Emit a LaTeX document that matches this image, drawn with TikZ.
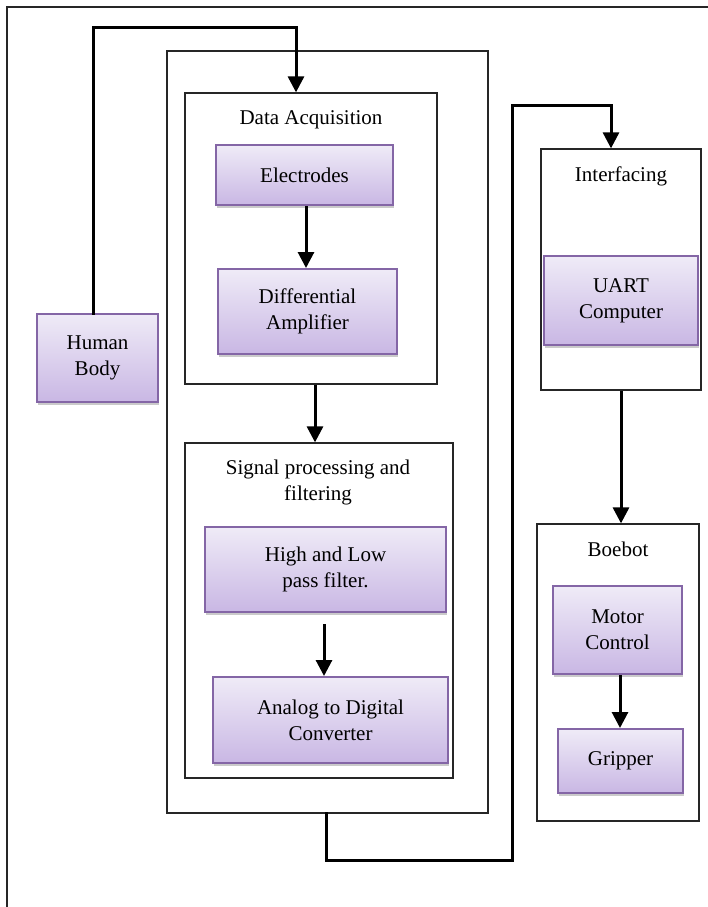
\documentclass[tikz,border=0pt]{standalone}
\usepackage{fontspec}
\setmainfont{Liberation Serif}
\usetikzlibrary{arrows.meta,shadows}
\definecolor{pborder}{HTML}{8466A6}
\definecolor{ptop}{HTML}{EFEBF7}
\definecolor{pbot}{HTML}{C9B7E4}
\tikzset{
  pbox/.style={draw=pborder, line width=2pt, top color=ptop, bottom color=pbot,
    minimum width=#1, inner sep=0pt, align=center,
    drop shadow={shadow xshift=1pt, shadow yshift=-3pt, opacity=0.35, fill=black!60}},
  cont/.style={draw=black!85, line width=1.3pt, inner sep=0pt},
  conn/.style={line width=3pt, line cap=rect},
  arr/.style={line width=3pt, -{Triangle[width=16pt,length=16pt]}},
  ttl/.style={inner sep=0pt, align=center, anchor=base},
}
\begin{document}
\begin{tikzpicture}[x=1pt,y=-1pt,font=\fontsize{21}{26}\selectfont]
\useasboundingbox (0,0) rectangle (708,907);
% outer frame
\coordinate (fl) at (7,907);
\coordinate (ft) at (7,7);
\coordinate (fr) at (708,7);
\draw[black!85, line width=1.3pt] (fl) -- (ft) -- (fr);
% containers
\node[cont, minimum width=321pt, minimum height=762pt] (big) at (327.5,432) {};
\node[cont, minimum width=252pt, minimum height=291pt] (da) at (311,238.5) {};
\node[cont, minimum width=268pt, minimum height=335pt] (sp) at (319,610.5) {};
\node[cont, minimum width=160pt, minimum height=241pt] (intf) at (621,269.5) {};
\node[cont, minimum width=162pt, minimum height=297pt] (bb) at (618,672.5) {};
% titles
\node[ttl] (datitle) at (311,124) {Data Acquisition};
\node[ttl] (sptitle) at (318,500) {Signal processing and\\filtering};
\node[ttl] (intftitle) at (621,181) {Interfacing};
\node[ttl] (bbtitle) at (618,556) {Boebot};
% purple boxes
\node[pbox=121pt, minimum height=88pt] (hb) at (97.5,358) {Human\\Body};
\node[pbox=177pt, minimum height=60pt] (el) at (304.5,175) {Electrodes};
\node[pbox=179pt, minimum height=85pt] (dif) at (307.5,311.5) {Differential\\Amplifier};
\node[pbox=241pt, minimum height=85pt] (flt) at (325.5,569.5) {High and Low\\pass filter.};
\node[pbox=235pt, minimum height=86pt] (adc) at (330.5,720) {Analog to Digital\\Converter};
\node[pbox=154pt, minimum height=89pt] (uart) at (621,300.5) {UART\\Computer};
\node[pbox=129pt, minimum height=88pt] (mot) at (617.5,630) {Motor\\Control};
\node[pbox=125pt, minimum height=64pt] (grp) at (620.5,761) {Gripper};
% connectors
\coordinate (a1) at (93,28);
\coordinate (a2) at (296,28);
\draw[conn] (hb.north -| a1) -- (a1) -- (a2);
\draw[arr] (a2) -- (a2 |- da.north);
\draw[arr] (306,0 |- el.south) -- (306,0 |- dif.north);
\draw[arr] (315,0 |- da.south) -- (315,0 |- sp.north);
\draw[arr, shorten <=11pt] (324,0 |- flt.south) -- (324,0 |- adc.north);
\coordinate (b0) at (326,813);
\coordinate (b1) at (326,860);
\coordinate (b2) at (512,860);
\coordinate (b3) at (512,105);
\coordinate (b4) at (611,105);
\draw[conn] (b0 |- big.south) -- (b1) -- (b2) -- (b3) -- (b4);
\draw[arr] (b4) -- (b4 |- intf.north);
\draw[arr] (621,0 |- intf.south) -- (621,0 |- bb.north);
\draw[arr] (620,0 |- mot.south) -- (620,0 |- grp.north);
\end{tikzpicture}
\end{document}
